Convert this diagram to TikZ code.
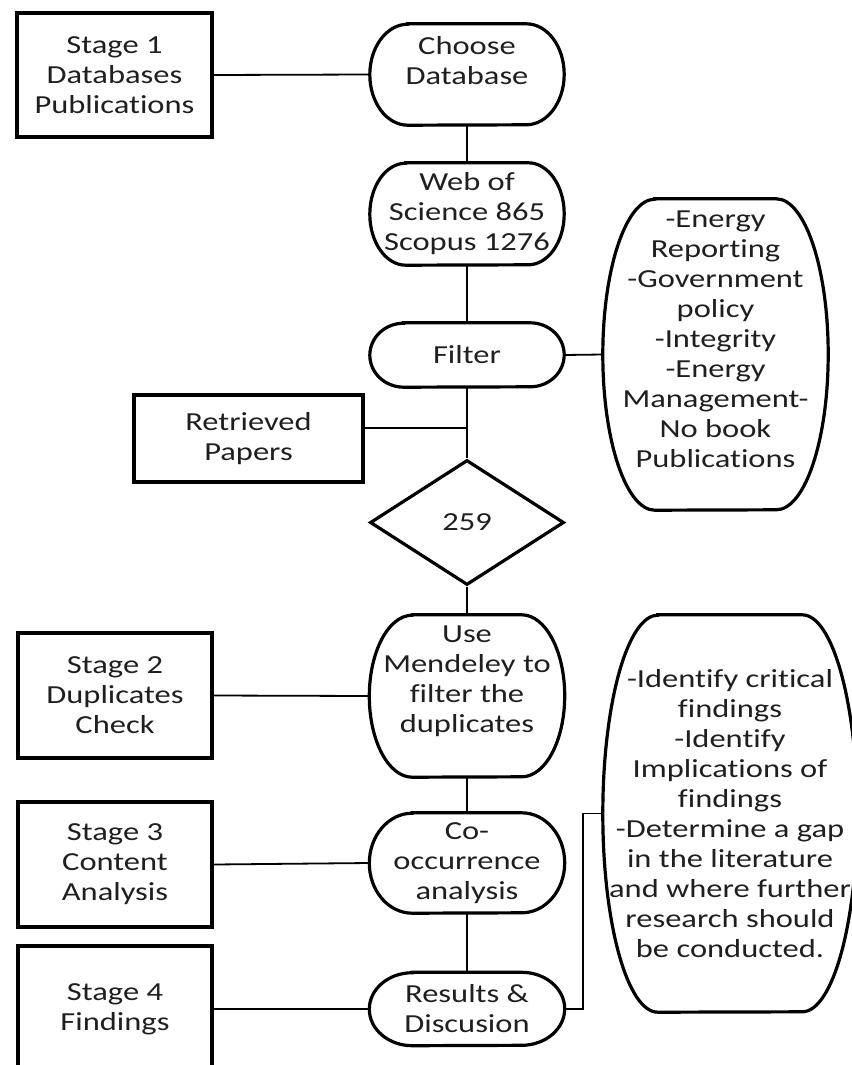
\documentclass[tikz,border=0pt]{standalone}
\usepackage{fontspec}
\setmainfont{Carlito}[FakeStretch=1.25,Ligatures=CommonOff]
\usetikzlibrary{shapes.geometric}
\newcommand\termout[3]{\path[shp] ([xshift=#2pt]#1.north west) -- ([xshift=-#2pt]#1.north east) arc[start angle=90,end angle=-90,x radius=#2pt,y radius=#3pt] -- ([xshift=#2pt]#1.south west) arc[start angle=270,end angle=90,x radius=#2pt,y radius=#3pt] -- cycle;}
\newcommand\uptext[2]{\raisebox{#1}[\height][\depth]{\begin{tabular}{@{}c@{}}#2\end{tabular}}}
\begin{document}
\begin{tikzpicture}[x=1pt,y=-1pt,
  txt/.style={align=center,font=\fontsize{26}{30}\selectfont,inner sep=0pt,text=black!88},
  box/.style={txt,draw,rectangle,line width=3.2pt},
  term/.style={txt,rectangle},
  shp/.style={draw,line width=3.2pt},
  conn/.style={draw,line width=1.8pt}]
\useasboundingbox (0,0) rectangle (851,1065);

% stage boxes
\node[box,minimum width=195pt,minimum height=124pt] (st1) at (114.5,75) {Stage 1\\Databases\\Publications};
\node[box,minimum width=229pt,minimum height=87pt] (ret) at (248.5,438.5) {Retrieved\\Papers};
\node[box,minimum width=194pt,minimum height=125pt] (st2) at (115,695.5) {Stage 2\\Duplicates\\Check};
\node[box,minimum width=194pt,minimum height=125pt] (st3) at (115,864.5) {Stage 3\\Content\\Analysis};
\node[box,minimum width=194pt,minimum height=126pt] (st4) at (115,1009) {Stage 4\\Findings};

% terminators
\node[term,minimum width=194pt,minimum height=101pt] (choose) at (467,74.5) {\uptext{11pt}{Choose\\Database}};
\node[term,minimum width=194pt,minimum height=102pt] (web) at (467,214) {Web of\\Science 865\\Scopus 1276};
\node[term,minimum width=194pt,minimum height=64pt] (filter) at (467,355) {Filter};
\node[term,minimum width=225pt,minimum height=311pt] (ell1) at (715.5,354.5) {\uptext{13pt}{-Energy\\Reporting\\-Government\\policy\\-Integrity\\-Energy\\Management-\\No book\\Publications}};
\node[shape=diamond,txt,draw,line width=3.2pt,minimum width=194pt,minimum height=125pt] (dia) at (467,522.5) {259};
\node[term,minimum width=195pt,minimum height=162pt] (use) at (467,696) {\uptext{15pt}{Use\\Mendeley to\\filter the\\duplicates}};
\node[term,minimum width=195pt,minimum height=100pt] (co) at (467,863) {Co-\\occurrence\\analysis};
\node[term,minimum width=195pt,minimum height=73pt] (res) at (467,1009) {Results \&\\Discusion};
\node[term,minimum width=254pt,minimum height=397pt] (ell2) at (730,813.5) {-Identify critical\\findings\\-Identify\\Implications of\\findings\\-Determine a gap\\in the literature\\and where further\\research should\\be conducted.};

\termout{choose}{38}{50.5}
\termout{web}{36}{51}
\termout{filter}{34}{32}
\termout{ell1}{52}{155.5}
\termout{use}{43}{81}
\termout{co}{43}{50}
\termout{res}{43}{36.5}
\termout{ell2}{55}{198.5}

% connectors
\path[conn] (st1.east) -- (choose.west);
\path[conn] (choose.south) -- (web.north);
\path[conn] (web.south) -- (filter.north);
\path[conn] (filter.east) -- (ell1.west);
\path[conn] (filter.south) -- (dia.north);
\path[conn] ([yshift=10.5pt]ret.east) -- ([yshift=10.5pt]ret.east -| filter.south);
\path[conn] (dia.south) -- (use.north);
\path[conn] (st2.east) -- (use.west);
\path[conn] (use.south) -- (co.north);
\path[conn] (st3.east) -- (co.west);
\path[conn] (co.south) -- (res.north);
\path[conn] (st4.east) -- (res.west);
\path[conn] (res.east) -- ++(18pt,0) |- (ell2.west);
\end{tikzpicture}
\end{document}
